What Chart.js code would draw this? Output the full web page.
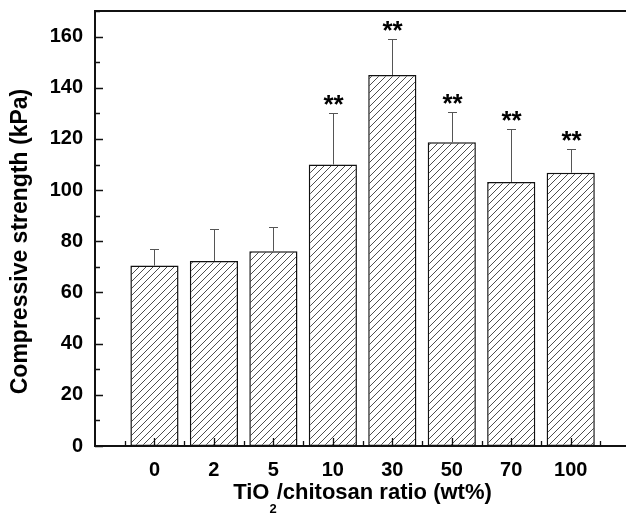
<!DOCTYPE html>
<html>
<head>
<meta charset="utf-8">
<script src="https://cdn.jsdelivr.net/npm/chart.js@4.4.1/dist/chart.umd.min.js"></script>
<style>
  html, body { margin: 0; padding: 0; background: #fff; }
</style>
</head>
<body>
<canvas id="strengthChart" width="626" height="515"></canvas>
<script>
const ratios = ['0', '2', '5', '10', '30', '50', '70', '100']
const strength = [70.5, 72.3, 76.1, 110, 145, 118.7, 103.2, 106.8]
const strengthSd = [6.6, 12.5, 9.6, 20.3, 14, 12, 20.6, 9.2]
const significance = ['', '', '', '**', '**', '**', '**', '**']

const FONT = "'Liberation Sans', Arial, sans-serif"

function makeHatch(ctx) {
  const c = document.createElement('canvas')
  c.width = 7
  c.height = 7
  const g = c.getContext('2d')
  g.fillStyle = '#fff'
  g.fillRect(0, 0, 7, 7)
  g.strokeStyle = '#3a3a3a'
  g.lineWidth = 0.9
  g.beginPath()
  g.moveTo(-1, 8); g.lineTo(8, -1)
  g.moveTo(-1, 1); g.lineTo(1, -1)
  g.moveTo(6, 8); g.lineTo(8, 6)
  g.stroke()
  return ctx.createPattern(c, 'repeat')
}

// inward ticks, error bars, stars, top frame and axis titles
const paperStyle = {
  id: 'paperStyle',
  afterDatasetsDraw(chart) {
    const { ctx, chartArea: a, scales: { x, y } } = chart
    ctx.save()

    // error bars (upper half only)
    ctx.strokeStyle = '#555'
    ctx.lineWidth = 1
    strength.forEach((v, i) => {
      const px = Math.round(x.getPixelForValue(i + 1)) + 0.5
      const base = y.getPixelForValue(v)
      const top = Math.round(y.getPixelForValue(v + strengthSd[i])) + 0.5
      ctx.beginPath()
      ctx.moveTo(px, base)
      ctx.lineTo(px, top)
      ctx.moveTo(px - 4.5, top)
      ctx.lineTo(px + 4.5, top)
      ctx.stroke()
      if (significance[i]) {
        ctx.fillStyle = '#000'
        ctx.font = 'bold 26px ' + FONT
        ctx.textAlign = 'center'
        ctx.textBaseline = 'alphabetic'
        ctx.fillText(significance[i], px, top - 1)
      }
    })

    // frame line on top
    ctx.strokeStyle = '#111'
    ctx.lineWidth = 2
    ctx.beginPath()
    ctx.moveTo(a.left - 1, a.top)
    ctx.lineTo(a.right, a.top)
    ctx.stroke()

    // ticks pointing inward
    ctx.lineWidth = 1.3
    ctx.beginPath()
    for (let v = 0; v <= 170; v += 10) {
      const py = Math.round(y.getPixelForValue(v)) + 0.5
      const len = v % 20 === 0 ? 8 : 5
      ctx.moveTo(a.left, py)
      ctx.lineTo(a.left + len, py)
    }
    for (let v = 0.5; v <= 8.5; v += 0.5) {
      const px = Math.round(x.getPixelForValue(v)) + 0.5
      const len = v % 1 === 0 ? 8 : 5
      ctx.moveTo(px, a.bottom)
      ctx.lineTo(px, a.bottom - len)
    }
    ctx.stroke()

    ctx.fillStyle = '#000'

    // y axis title
    ctx.save()
    ctx.translate(27, 241.5)
    ctx.rotate(-Math.PI / 2)
    ctx.font = 'bold 23px ' + FONT
    ctx.textAlign = 'center'
    ctx.textBaseline = 'alphabetic'
    ctx.fillText('Compressive strength (kPa)', 0, 0)
    ctx.restore()

    // x axis title with subscript
    const cx = (a.left + a.right) / 2 + 2
    const base = 499
    ctx.textAlign = 'left'
    ctx.textBaseline = 'alphabetic'
    const big = 'bold 22px ' + FONT
    const small = 'bold 13px ' + FONT
    const p1 = 'TiO', p2 = '2', p3 = '/chitosan ratio (wt%)'
    ctx.font = big
    const w1 = ctx.measureText(p1).width
    const w3 = ctx.measureText(p3).width
    ctx.font = small
    const w2 = ctx.measureText(p2).width
    let sx = cx - (w1 + w2 + w3) / 2
    ctx.font = big
    ctx.fillText(p1, sx, base)
    sx += w1
    ctx.font = small
    ctx.fillText(p2, sx, base + 14)
    sx += w2
    ctx.font = big
    ctx.fillText(p3, sx, base)

    ctx.restore()
  }
}

const canvas = document.getElementById('strengthChart')
const ctx = canvas.getContext('2d')

new Chart(ctx, {
  type: 'bar',
  data: {
    datasets: [{
      label: 'Compressive strength',
      data: strength.map((v, i) => ({ x: i + 1, y: v })),
      backgroundColor: makeHatch(ctx),
      borderColor: '#111',
      borderWidth: 1.5,
      borderSkipped: false,
      barPercentage: 0.81,
      categoryPercentage: 1
    }]
  },
  options: {
    responsive: false,
    animation: false,
    events: [],
    layout: { padding: { left: 0, top: 11, right: 0, bottom: 0 } },
    plugins: { legend: { display: false }, tooltip: { enabled: false } },
    scales: {
      x: {
        type: 'linear',
        offset: false,
        min: 0,
        max: 8.93,
        grid: { display: false, drawTicks: false, offset: false },
        border: { display: true, color: '#111', width: 2 },
        ticks: {
          stepSize: 1,
          includeBounds: false,
          autoSkip: false,
          maxRotation: 0,
          padding: 12,
          color: '#000',
          font: { family: FONT, size: 20, weight: 'bold' },
          callback: v => ratios[v - 1] || ''
        },
        afterFit: s => { s.height = 69; s.paddingLeft = 0; s.paddingRight = 0 }
      },
      y: {
        min: 0,
        max: 170,
        grid: { display: false, drawTicks: false },
        border: { display: true, color: '#111', width: 2 },
        ticks: {
          stepSize: 20,
          includeBounds: false,
          padding: 12,
          color: '#000',
          font: { family: FONT, size: 20, weight: 'bold' }
        },
        afterFit: s => { s.width = 95; s.paddingTop = 0; s.paddingBottom = 0 }
      }
    }
  },
  plugins: [paperStyle]
})
</script>
</body>
</html>
